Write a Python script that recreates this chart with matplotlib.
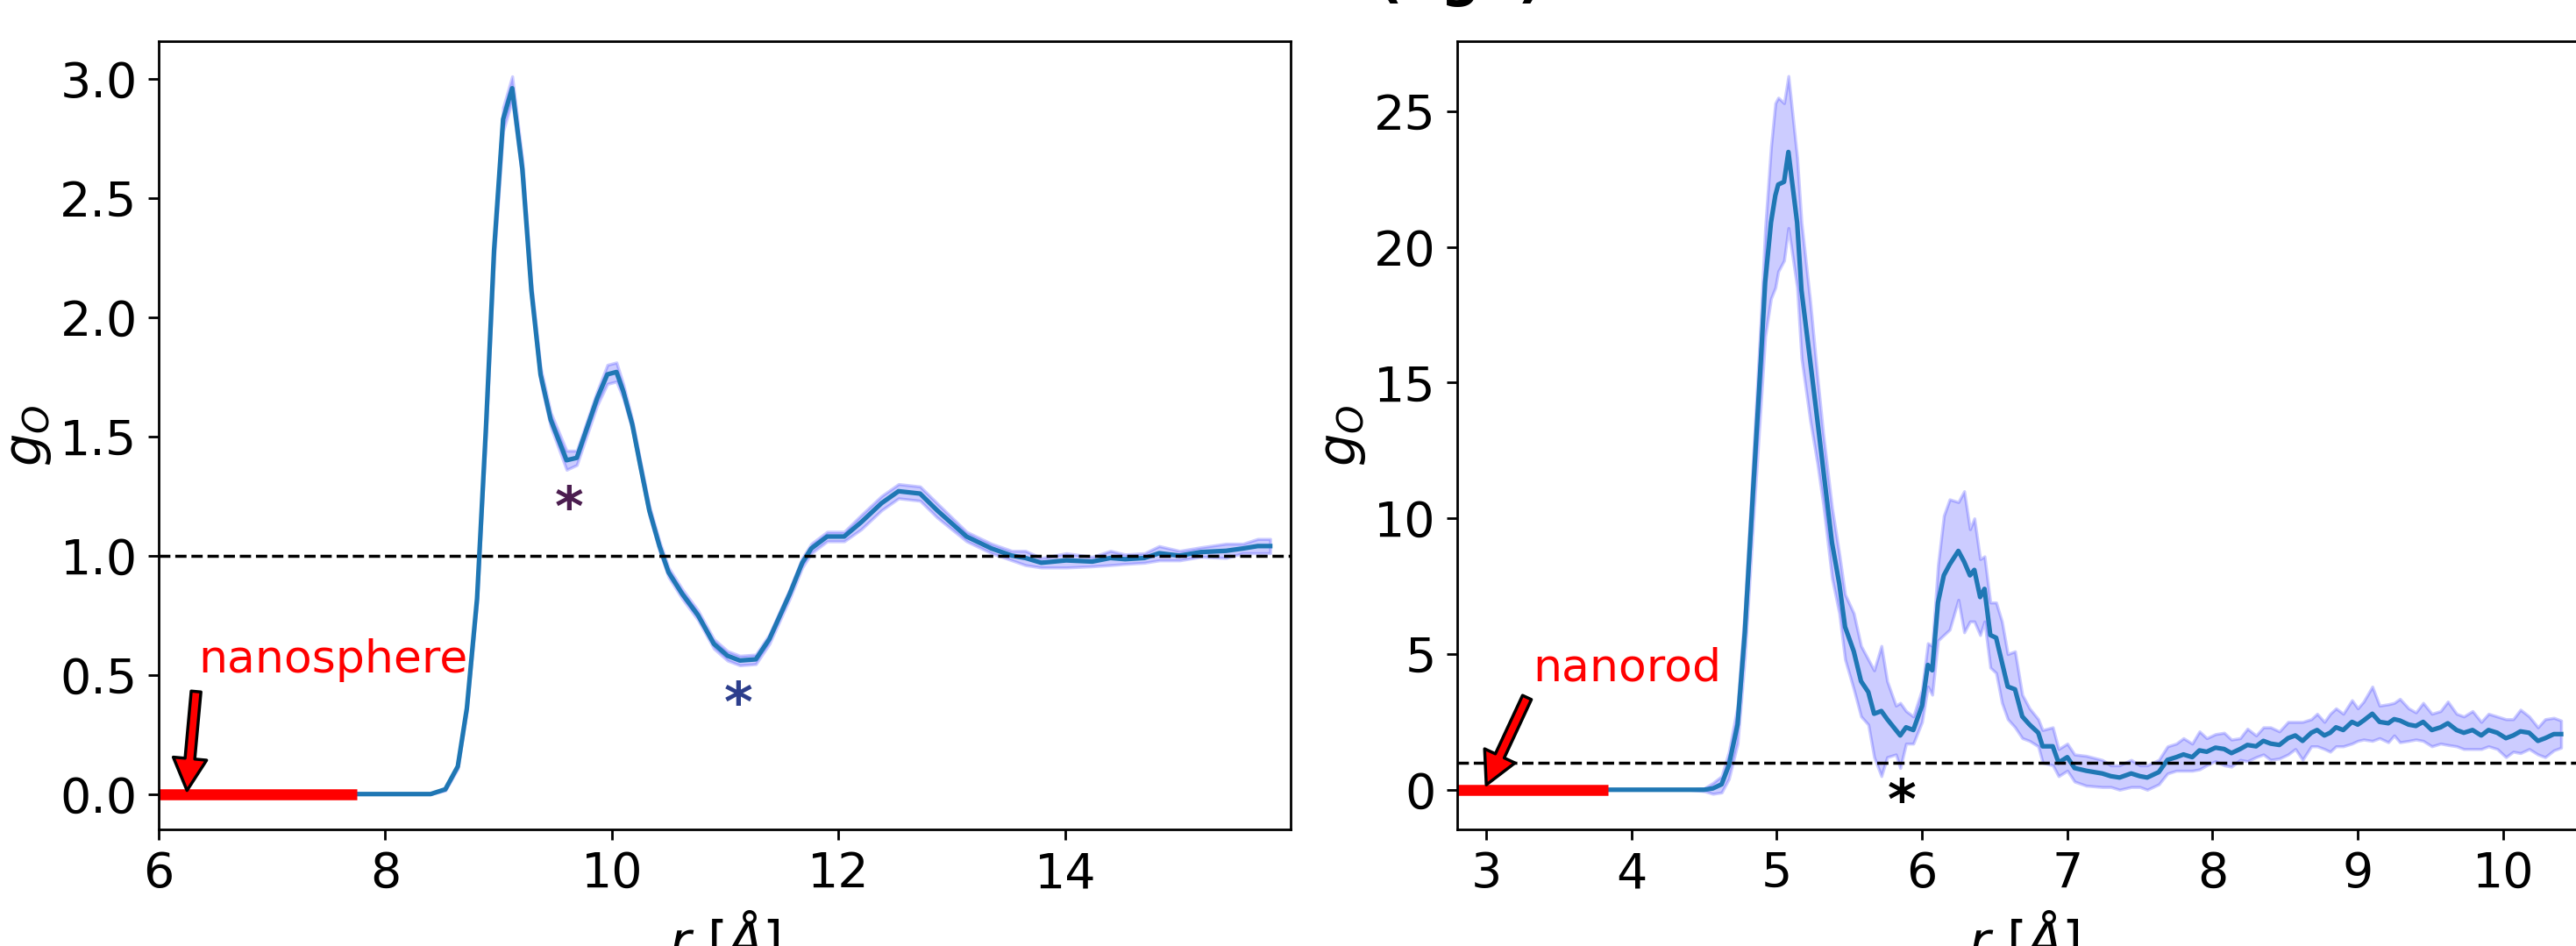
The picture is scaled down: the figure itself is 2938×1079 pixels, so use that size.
import matplotlib
matplotlib.use("Agg")
import matplotlib.pyplot as plt
from matplotlib.ticker import MultipleLocator
import numpy as np

# ---------------- data ----------------
# left panel: nanosphere
r_sphere = [6.0, 6.5, 7.0, 7.5, 8.0, 8.4, 8.53, 8.64, 8.72, 8.81, 8.89, 8.96, 9.04,
            9.12, 9.21, 9.29, 9.37, 9.46, 9.6, 9.69, 9.87, 9.96, 10.04, 10.1, 10.18,
            10.25, 10.33, 10.42, 10.5, 10.62, 10.76, 10.9, 11.02, 11.13, 11.27, 11.39,
            11.57, 11.68, 11.76, 11.9, 12.05, 12.2, 12.38, 12.53, 12.72, 12.87, 13.13,
            13.35, 13.53, 13.65, 13.79, 14.01, 14.24, 14.4, 14.53, 14.7, 14.83, 15.01,
            15.2, 15.42, 15.57, 15.7, 15.81]
g_sphere = [0.0, 0.0, 0.0, 0.0, 0.0, 0.0, 0.02, 0.116, 0.36, 0.82, 1.55, 2.28, 2.83,
            2.96, 2.62, 2.11, 1.76, 1.57, 1.40, 1.41, 1.66, 1.76, 1.77, 1.69, 1.55,
            1.38, 1.19, 1.04, 0.93, 0.84, 0.75, 0.63, 0.58, 0.56, 0.565, 0.65,
            0.84, 0.97, 1.03, 1.08, 1.08, 1.14, 1.22, 1.27, 1.26, 1.19, 1.08,
            1.03, 1.0, 0.99, 0.97, 0.98, 0.975, 0.99, 0.985, 0.99, 1.01, 1.0,
            1.015, 1.02, 1.03, 1.04, 1.04]
err_sphere = [0.0, 0.0, 0.0, 0.0, 0.0, 0.0, 0.005, 0.01, 0.01, 0.02, 0.03, 0.04, 0.05,
              0.05, 0.04, 0.03, 0.03, 0.03, 0.04, 0.03, 0.03, 0.04, 0.04, 0.03, 0.02,
              0.02, 0.02, 0.02, 0.02, 0.02, 0.02, 0.02, 0.02, 0.02, 0.02, 0.02,
              0.02, 0.02, 0.02, 0.02, 0.02, 0.03, 0.03, 0.03, 0.03, 0.03, 0.02,
              0.02, 0.02, 0.03, 0.02, 0.03, 0.02, 0.03, 0.02, 0.02, 0.03, 0.02,
              0.02, 0.03, 0.02, 0.03, 0.03]

# right panel: nanorod
r_rod = [2.8, 3.2, 3.6, 4.0, 4.4, 4.5, 4.56, 4.62, 4.67, 4.73, 4.78, 4.84, 4.89, 4.92,
         4.96, 4.99, 5.01, 5.05, 5.08, 5.11, 5.14, 5.17, 5.23, 5.28, 5.32, 5.38,
         5.43, 5.47, 5.53, 5.58, 5.63, 5.67, 5.72, 5.76, 5.82, 5.85, 5.89, 5.94,
         6.0, 6.04, 6.07, 6.11, 6.15, 6.19, 6.25, 6.29, 6.33, 6.36, 6.40, 6.43,
         6.47, 6.51, 6.55, 6.59, 6.64, 6.69, 6.74, 6.8, 6.83, 6.9, 6.94, 7.0,
         7.05, 7.13, 7.24, 7.3, 7.36, 7.44, 7.5, 7.55, 7.63, 7.69, 7.75, 7.8,
         7.86, 7.91, 7.96, 8.02, 8.08, 8.13, 8.19, 8.24, 8.3, 8.35, 8.4, 8.46,
         8.52, 8.57, 8.62, 8.68, 8.72, 8.77, 8.81, 8.85, 8.9, 8.96, 9.0, 9.04,
         9.1, 9.15, 9.21, 9.25, 9.29, 9.35, 9.4, 9.45, 9.51, 9.57, 9.62, 9.68,
         9.73, 9.79, 9.85, 9.9, 9.96, 10.02, 10.07, 10.12, 10.18, 10.24, 10.29,
         10.35, 10.4]
g_rod = [0.0, 0.0, 0.0, 0.0, 0.0, 0.0, 0.05, 0.2, 0.9, 2.4, 5.8, 11.3, 15.8, 18.7,
         20.9, 21.9, 22.3, 22.4, 23.5, 22.2, 20.9, 18.4, 15.8, 13.6, 11.8, 9.1,
         7.6, 6.0, 5.1, 4.0, 3.6, 2.8, 2.9, 2.6, 2.2, 2.0, 2.3, 2.2,
         3.1, 4.6, 4.4, 6.9, 7.9, 8.3, 8.8, 8.4, 7.9, 8.1, 7.1, 7.4,
         5.7, 5.6, 4.7, 3.8, 3.7, 2.7, 2.4, 2.1, 1.6, 1.6, 1.0, 1.2,
         0.8, 0.7, 0.6, 0.5, 0.45, 0.6, 0.5, 0.45, 0.65, 1.1, 1.2, 1.3,
         1.2, 1.45, 1.4, 1.55, 1.5, 1.35, 1.5, 1.65, 1.6, 1.8, 1.7, 1.65,
         1.9, 2.0, 1.8, 2.1, 2.2, 2.0, 2.1, 2.3, 2.2, 2.5, 2.4, 2.55,
         2.8, 2.5, 2.45, 2.6, 2.55, 2.4, 2.35, 2.5, 2.2, 2.3, 2.45, 2.2,
         2.1, 2.2, 2.0, 2.2, 2.1, 1.9, 2.0, 2.15, 2.1, 1.8, 1.9,
         2.05, 2.05]
err_rod = [0.0, 0.0, 0.0, 0.0, 0.0, 0.05, 0.2, 0.3, 0.5, 0.7, 0.9, 1.2, 1.6, 2.0,
           2.8, 3.4, 3.2, 2.9, 2.8, 2.6, 2.4, 2.5, 2.2, 1.6, 1.3, 1.3,
           1.1, 1.2, 1.4, 1.3, 1.2, 1.6, 2.4, 1.4, 0.9, 1.2, 0.6, 0.5,
           0.6, 0.8, 0.9, 1.4, 2.2, 2.4, 1.8, 2.6, 1.7, 1.9, 1.4, 1.2,
           1.2, 1.3, 1.5, 1.2, 1.4, 0.8, 0.6, 0.5, 0.6, 0.7, 0.5, 0.5,
           0.5, 0.55, 0.5, 0.4, 0.45, 0.5, 0.4, 0.45, 0.45, 0.5, 0.5, 0.6,
           0.5, 0.7, 0.5, 0.5, 0.6, 0.5, 0.4, 0.6, 0.4, 0.5, 0.6, 0.5,
           0.6, 0.5, 0.7, 0.5, 0.6, 0.5, 0.7, 0.7, 0.6, 0.8, 0.6, 0.7,
           1.0, 0.6, 0.7, 0.6, 0.8, 0.6, 0.5, 0.7, 0.6, 0.6, 0.8, 0.6,
           0.6, 0.7, 0.5, 0.6, 0.6, 0.7, 0.6, 0.8, 0.6, 0.5, 0.7,
           0.6, 0.5]

# particle extent shown as the thick red bar, and the asterisk marks
sphere_extent = (6.0, 7.75)
rod_extent = (2.8, 3.84)
sphere_stars = [(9.62, 1.19, '#4b1d4f'), (11.12, 0.37, '#2c3e8c')]
rod_stars = [(5.86, -0.5, 'black')]

###############################################################################
fs = 16
plt.rcParams['font.size'] = fs

fig = plt.figure(figsize=(11.752, 4.316), dpi=250)
ax1 = fig.add_axes([0.0616, 0.1233, 0.4394, 0.8331])
ax2 = fig.add_axes([0.5657, 0.1233, 0.4398, 0.8331])


def panel(ax, r, g, err, extent, stars, label, label_xy, tail, tip):
    r = np.array(r)
    g = np.array(g)
    err = np.array(err)
    ax.fill_between(r, g - err, g + err, color='blue', alpha=0.2)
    ax.plot(r, g, color='tab:blue', lw=1.5)
    ax.axhline(1.0, color='black', ls='--', lw=1)
    ax.plot(extent, [0, 0], color='red', lw=3.6, solid_capstyle='butt')
    for x, y, c in stars:
        ax.text(x, y, '*', color=c, fontsize=18, fontweight='bold',
                ha='center', va='center')
    ax.text(label_xy[0], label_xy[1], label, color='red', fontsize=15)
    ax.annotate('', xy=tip, xytext=tail,
                arrowprops=dict(arrowstyle='simple,head_width=1.1,head_length=1.05,tail_width=0.32',
                                fc='red', ec='black', lw=1.0, mutation_scale=10,
                                shrinkA=0, shrinkB=0))
    ax.set_xlabel(r'$r\ [Å]$', fontsize=17)
    ax.set_ylabel(r'$g_O$', fontsize=17, labelpad=2)


panel(ax1, r_sphere, g_sphere, err_sphere, sphere_extent, sphere_stars,
      'nanosphere', (6.35, 0.51), (6.33, 0.43), (6.25, 0.015))
ax1.set_xlim(6, 15.99)
ax1.set_ylim(-0.148, 3.157)

panel(ax2, r_rod, g_rod, err_rod, rod_extent, rod_stars,
      'nanorod', (3.32, 4.0), (3.28, 3.4), (3.0, 0.18))
ax2.set_xlim(2.8, 10.6)
ax2.set_ylim(-1.46, 27.58)
ax2.xaxis.set_major_locator(MultipleLocator(1))

# title of the figure, mostly outside the saved area
fig.text(0.5667, 1.005, '(  g  )', fontsize=18, fontweight='bold',
         ha='center', va='baseline')

fig.savefig('out.png', dpi=250)
